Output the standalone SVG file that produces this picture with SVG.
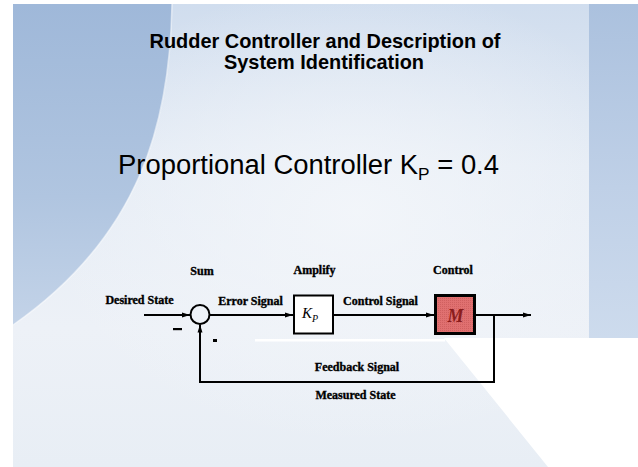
<svg xmlns="http://www.w3.org/2000/svg" width="638" height="467" viewBox="0 0 638 467">
  <defs>
    <linearGradient id="slideBg" x1="0" y1="0" x2="0" y2="1">
      <stop offset="0" stop-color="#d0ddee"/>
      <stop offset="0.35" stop-color="#e5ecf5"/>
      <stop offset="0.7" stop-color="#edf1f7"/>
      <stop offset="1" stop-color="#e8eef5"/>
    </linearGradient>
    <radialGradient id="slideGlow" cx="0.55" cy="0.45" r="0.5">
      <stop offset="0" stop-color="#f3f6fa" stop-opacity="0.9"/>
      <stop offset="1" stop-color="#f3f6fa" stop-opacity="0"/>
    </radialGradient>
    <linearGradient id="leftArc" x1="0" y1="0" x2="0" y2="1">
      <stop offset="0" stop-color="#9fb8d9"/>
      <stop offset="0.6" stop-color="#b0c5e0"/>
      <stop offset="1" stop-color="#c3d3e8"/>
    </linearGradient>
    <linearGradient id="rightStrip" x1="0" y1="0" x2="0" y2="1">
      <stop offset="0" stop-color="#abc1de"/>
      <stop offset="0.55" stop-color="#bfd0e7"/>
      <stop offset="1" stop-color="#cddbed"/>
    </linearGradient>
    <marker id="arrow" viewBox="0 0 8 6" markerWidth="8" markerHeight="6" refX="8" refY="3" orient="auto" markerUnits="userSpaceOnUse">
      <path d="M0,0.5 L8,3 L0,5.5 z" fill="#000"/>
    </marker>
    <pattern id="dots" width="2" height="2" patternUnits="userSpaceOnUse">
      <rect width="2" height="2" fill="#e07070"/>
      <rect width="1" height="1" fill="#d06060"/>
    </pattern>
    <style>
      .title { font-family: "Liberation Sans", Arial, sans-serif; font-weight: bold; font-size: 21px; fill: #000; text-anchor: middle; }
      .sub { font-family: "Liberation Sans", Arial, sans-serif; font-size: 27px; fill: #000; }
      .lbl { font-family: "Liberation Serif", "Times New Roman", serif; font-weight: bold; font-size: 12px; fill: #000; stroke: #000; stroke-width: 0.35; text-anchor: middle; }
      .wire { fill: none; stroke: #000; stroke-width: 2; }
      .math { font-family: "Liberation Serif", "Times New Roman", serif; font-style: italic; }
    </style>
  </defs>

  <!-- slide background -->
  <rect width="638" height="467" fill="#fff"/>
  <rect x="13" y="4" width="625" height="463" fill="url(#slideBg)"/>
  <rect x="13" y="4" width="625" height="463" fill="url(#slideGlow)"/>
  <path d="M13,4 H172 C170,120 142,235 13,325 Z" fill="url(#leftArc)"/>
  <path d="M172,4 C170,120 142,235 13,325" fill="none" stroke="#ffffff" stroke-opacity="0.55" stroke-width="1.5"/>
  <rect x="589" y="4" width="49" height="334" fill="url(#rightStrip)"/>
  <polygon points="444,338 638,338 638,467 548,467" fill="#fff"/>
  <rect x="255" y="339" width="190" height="2.5" fill="#fff"/>

  <!-- headings -->
  <text class="title" x="325" y="48" textLength="351" lengthAdjust="spacingAndGlyphs">Rudder Controller and Description of</text>
  <text class="title" x="324" y="69" textLength="200" lengthAdjust="spacingAndGlyphs">System Identification</text>
  <text class="sub" x="118" y="174" textLength="381" lengthAdjust="spacingAndGlyphs">Proportional Controller K<tspan font-size="17" dy="6">P</tspan><tspan dy="-6"> = 0.4</tspan></text>

  <!-- connectors -->
  <g id="connectors">
    <path class="wire" d="M144,315 H190" marker-end="url(#arrow)"/>
    <path class="wire" d="M210,315 H293" marker-end="url(#arrow)"/>
    <path class="wire" d="M334,315 H434" marker-end="url(#arrow)"/>
    <path class="wire" d="M476,315 H531" marker-end="url(#arrow)"/>
    <path class="wire" d="M494,315 V382 H200 V324.5" marker-end="url(#arrow)"/>
  </g>

  <!-- summing junction -->
  <g id="sum">
    <circle cx="200" cy="314.5" r="9.5" fill="none" stroke="#000" stroke-width="2"/>
    <text class="lbl" x="202" y="275">Sum</text>
    <rect x="173" y="328" width="9" height="2.2" fill="#000"/>
    <rect x="213" y="339" width="4" height="3" fill="#000"/>
  </g>

  <!-- gain block -->
  <g id="amplify">
    <rect x="294" y="295.5" width="39" height="38" fill="#fff" stroke="#000" stroke-width="2"/>
    <text class="math" x="302" y="318" font-size="15">K<tspan font-size="10" dy="4">P</tspan></text>
    <text class="lbl" x="314.5" y="274">Amplify</text>
  </g>

  <!-- plant block -->
  <g id="control">
    <rect x="435.5" y="295.5" width="39" height="38" fill="url(#dots)" stroke="#000" stroke-width="3"/>
    <text class="math" x="455.5" y="322" font-size="18" font-weight="bold" fill="#8b1c1c" text-anchor="middle">M</text>
    <text class="lbl" x="453" y="274">Control</text>
  </g>

  <!-- signal labels -->
  <g id="labels">
    <text class="lbl" x="139.5" y="304">Desired State</text>
    <text class="lbl" x="250.5" y="305">Error Signal</text>
    <text class="lbl" x="380.5" y="305">Control Signal</text>
    <text class="lbl" x="357" y="371">Feedback Signal</text>
    <text class="lbl" x="355.5" y="399">Measured State</text>
  </g>
</svg>
